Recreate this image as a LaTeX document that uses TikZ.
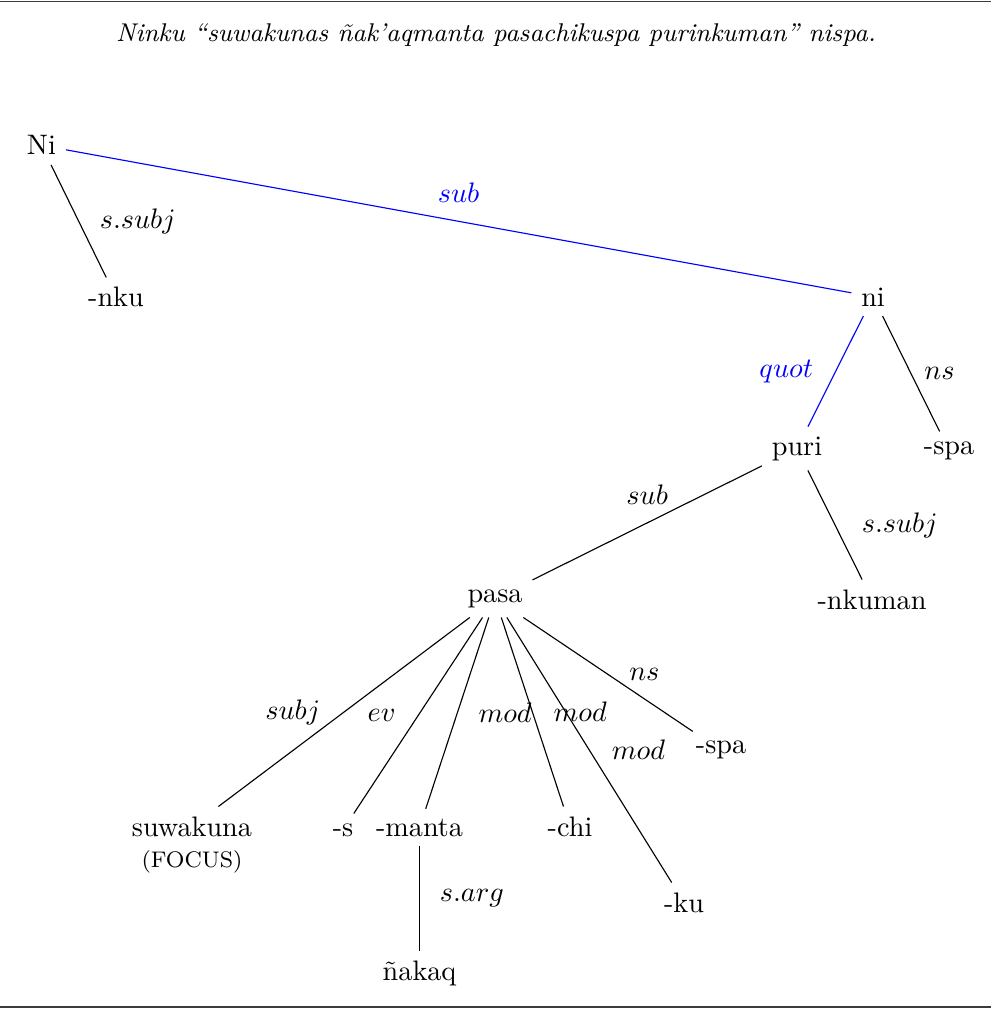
\documentclass[tikz,border=0pt]{standalone}
\usepackage{fontspec}
\usetikzlibrary{positioning}
\definecolor{relBlue}{RGB}{0,0,255}
\definecolor{ruleGray}{RGB}{60,60,60}
\tikzset{
  wd/.style   ={anchor=base, font=\normalsize},
  dep/.style  ={thin, draw=black},
  hl/.style   ={thin, draw=relBlue},
  rel/.style  ={font=\normalsize},
  hlrel/.style={font=\normalsize, text=relBlue},
  frule/.style={line width=0.6pt, draw=ruleGray},
}
\begin{document}
\begin{tikzpicture}
\useasboundingbox (0,0) rectangle (12.354,-12.578);
\draw[frule] (0,-0.02) -- (12.354,-0.02);
\draw[frule] (0,-12.553) -- (12.354,-12.553);
\node[wd, font=\fontsize{9.1}{11}\selectfont] (title) at (6.183,-0.515)
   {\textit{Ninku ``suwakunas ñak'aqmanta pasachikuspa purinkuman'' nispa.}};
% words
\node[wd] (Ni)       at (0.517,-1.932)  {Ni};
\node[wd] (nku)      at (1.446,-3.827)  {-nku};
\node[wd] (ni)       at (10.883,-3.815) {ni};
\node[wd] (puri)     at (9.935,-5.672)  {puri};
\node[wd] (spaA)     at (11.830,-5.660) {-spa};
\node[wd] (nkuman)   at (10.870,-7.592) {-nkuman};
\node[wd] (pasa)     at (6.171,-7.505)  {pasa};
\node[wd] (suwakuna) at (2.393,-10.422) {suwakuna};
\node[wd] (focus)    at (2.393,-10.810) {\footnotesize (FOCUS)};
\node[wd] (s)        at (4.276,-10.422) {-s};
\node[wd] (manta)    at (5.230,-10.422) {-manta};
\node[wd] (chi)      at (7.106,-10.422) {-chi};
\node[wd] (ku)       at (8.527,-11.369) {-ku};
\node[wd] (spaB)     at (8.988,-9.399)  {-spa};
\node[wd] (nakaq)    at (5.230,-12.217) {ñakaq};
% relations
\draw[hl] (Ni) -- node[hlrel, anchor=south, yshift=3pt] {$sub$} (ni);
\draw[hl] (ni) -- node[hlrel, anchor=east, xshift=-4.5pt] {$quot$} (puri);
\draw[dep] (puri) -- node[rel, anchor=south, yshift=3pt] {$sub$} (pasa);
\foreach \a/\b/\l/\an/\dx in {Ni/nku/s.subj/west/4pt, ni/spaA/ns/west/1.2pt,
    puri/nkuman/s.subj/west/6pt, pasa/suwakuna/subj/east/-5pt,
    pasa/s/ev/east/-4.5pt, pasa/manta/mod/west/4pt, pasa/chi/mod/west/4pt,
    pasa/ku/mod/west/4.5pt, pasa/spaB/ns/west/4pt, manta/nakaq/s.arg/west/3.7pt}
  \draw[dep] (\a) -- node[rel, anchor=\an, xshift=\dx] {$\l$} (\b);
\end{tikzpicture}
\end{document}
